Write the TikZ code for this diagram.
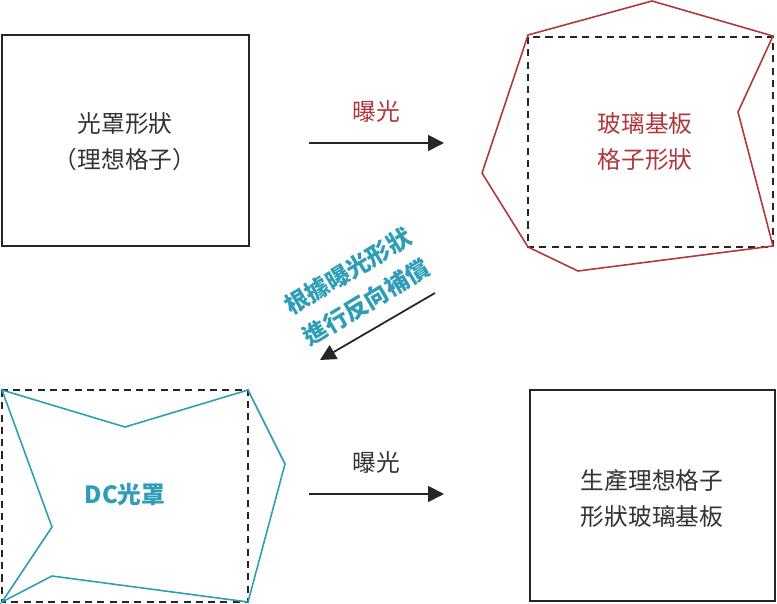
\documentclass[tikz,border=0pt]{standalone}
\usepackage{fontspec}
\setmainfont{Noto Sans CJK TC}
\usepackage{xcolor}
\usetikzlibrary{arrows.meta}
\definecolor{glassred}{HTML}{B0373D}
\definecolor{maskcyan}{HTML}{2E9DB8}
\tikzset{
  box/.style={draw=black!85,line width=1.1pt},
  ideal/.style={draw=black!85,line width=0.9pt,dash pattern=on 4pt off 3pt},
  expo/.style={-{Triangle[length=9pt,width=9pt]},line width=1pt,black!85},
  lbl/.style={font=\fontsize{13.5}{20.5}\selectfont,align=center,text=black!80}
}
\begin{document}
\begin{tikzpicture}[x=0.02cm,y=-0.02cm]
  \useasboundingbox (0,0) rectangle (777,604);
  % top row
  \draw[box] (2,35) rectangle (249,246);
  \node (mask) [lbl] at (125,142) {光罩形狀\\（理想格子）};
  \coordinate (e1s) at (309,143);
  \coordinate (e1t) at (444,143);
  \draw[expo] (e1s) -- (e1t) node (e1) [midway,above=8pt,lbl,text=glassred] {曝光};
  \draw[ideal] (528,37) rectangle (773,247);
  \draw[glassred,line width=0.9pt] (528,35) -- (652,1) -- (773,36) -- (738,112)
    -- (773,246) -- (578,271) -- (528,247) -- (482,173) -- cycle;
  \node (glass) [lbl,text=glassred] at (645,142) {玻璃基板\\格子形狀};
  % compensation
  \coordinate (cs) at (435,293);
  \coordinate (ct) at (320,360);
  \draw[expo] (cs) -- (ct);
  \node (comp) [lbl,text=maskcyan,rotate=31] at (357,287) {\bfseries 根據曝光形狀\\\bfseries 進行反向補償};
  % bottom row
  \draw[ideal] (2,390) rectangle (248,602);
  \draw[maskcyan,line width=0.9pt] (2,390) -- (125,427) -- (248,390) -- (285,464)
    -- (248,602) -- (52,576) -- (2,602) -- (52,527) -- cycle;
  \node (dcmask) [lbl,text=maskcyan,font=\fontsize{13.5}{20.5}\selectfont\bfseries] at (125,495) {DC光罩};
  \coordinate (e2s) at (309,494);
  \coordinate (e2t) at (444,494);
  \draw[expo] (e2s) -- (e2t) node (e2) [midway,above=8pt,lbl] {曝光};
  \draw[box] (530,390) rectangle (775,601);
  \node (prod) [lbl] at (652,498) {生產理想格子\\形狀玻璃基板};
\end{tikzpicture}
\end{document}
